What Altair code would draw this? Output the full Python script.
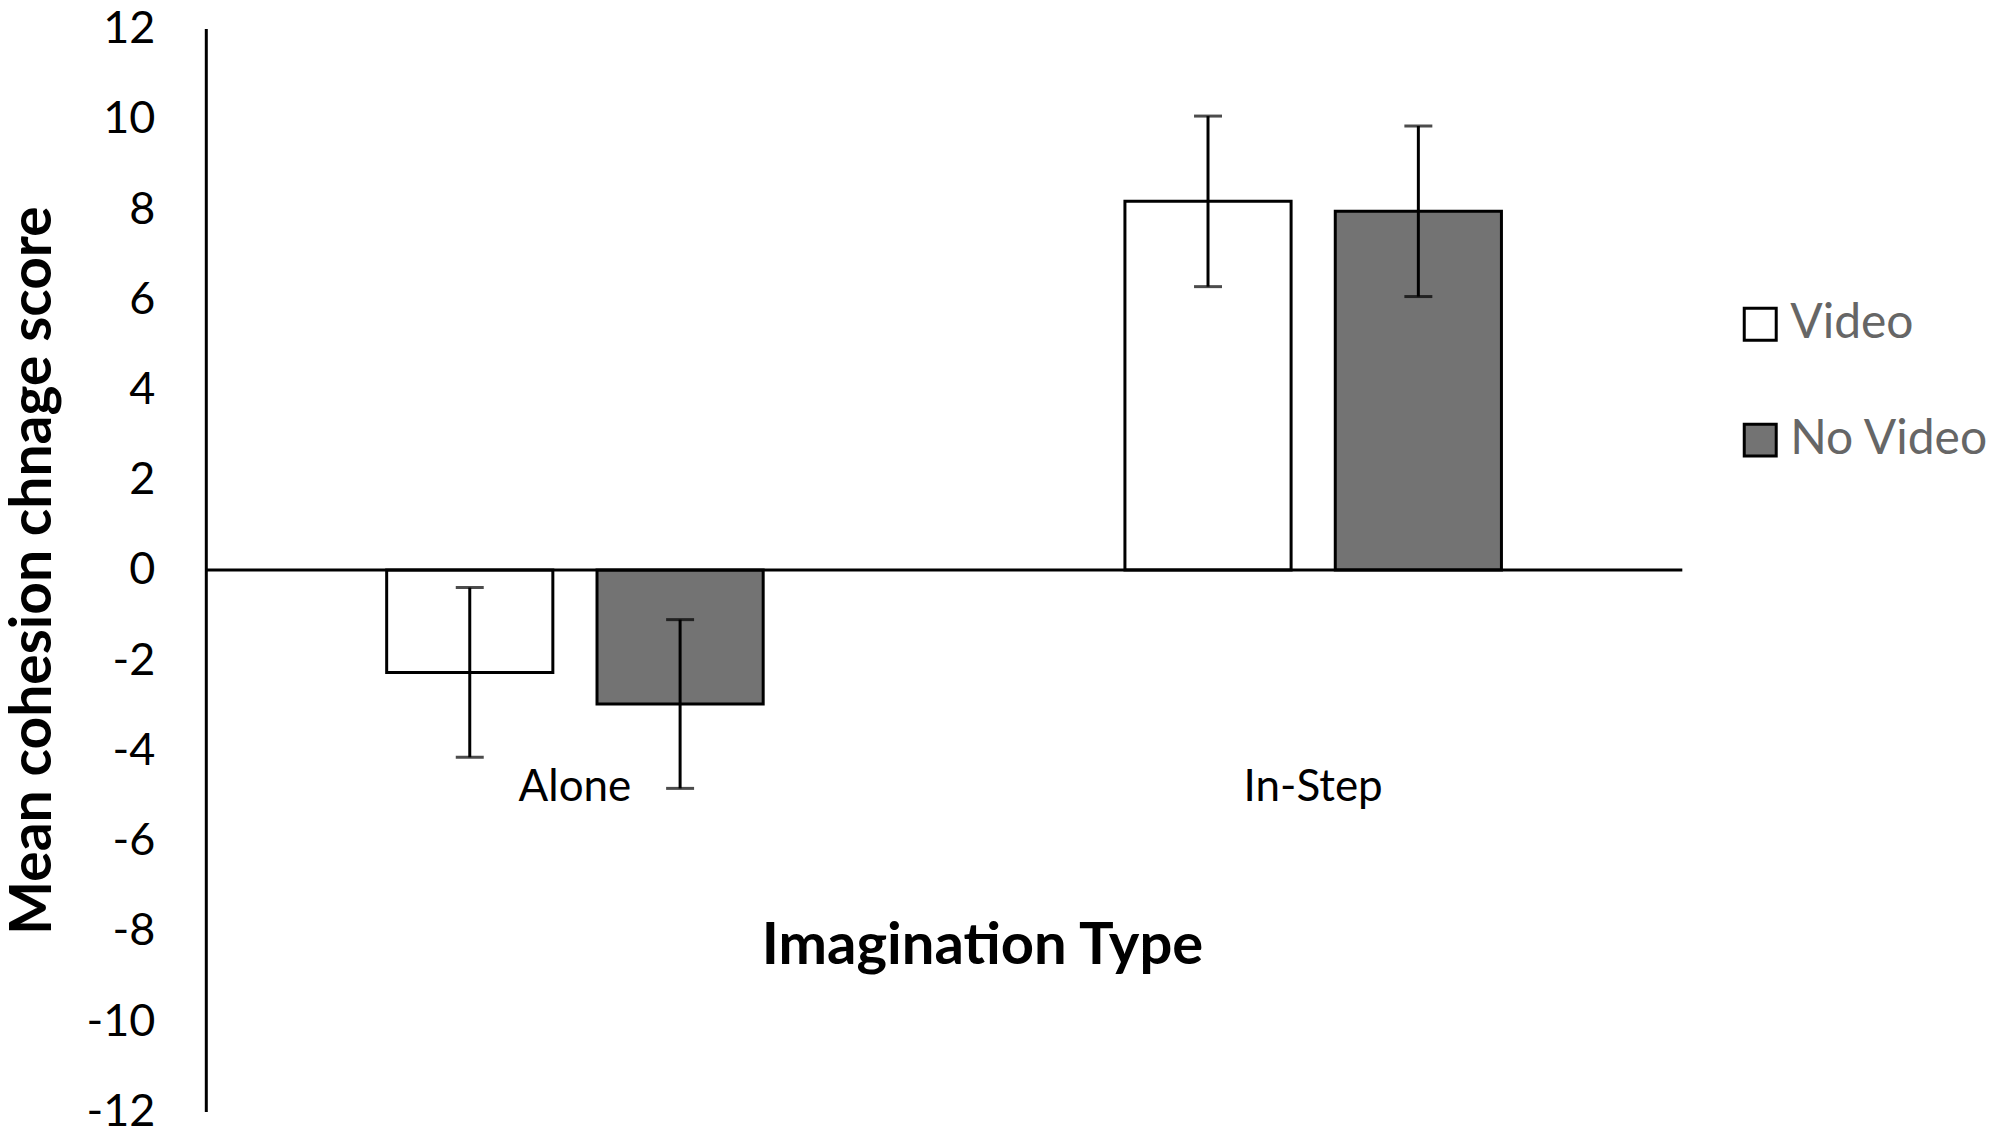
import altair as alt
import pandas as pd

categories = ["Alone", "In-Step"]
conditions = ["Video", "No Video"]
video_means = [-2.27, 8.17]
novideo_means = [-2.97, 7.95]
video_err = [1.88, 1.89]
novideo_err = [1.87, 1.89]
y_ticks = list(range(-12, 13, 2))
fill_colors = ["#ffffff", "#737373"]

rows = []
for i, c in enumerate(categories):
    rows.append(dict(cat=c, cond="Video", mean=video_means[i], err=video_err[i]))
    rows.append(dict(cat=c, cond="No Video", mean=novideo_means[i], err=novideo_err[i]))
df = pd.DataFrame(rows)
df["lo"] = df["mean"] - df["err"]
df["hi"] = df["mean"] + df["err"]

FONT = "Lato"
W, H = 1478, 1084

xscale = alt.Scale(paddingInner=0.49, paddingOuter=0.245)
xoff = alt.XOffset("cond:N", sort=conditions, scale=alt.Scale(paddingInner=0.21, paddingOuter=0))
yscale = alt.Scale(domain=[-12, 12], nice=False, zero=False)

base = alt.Chart(df)

bars = base.mark_bar(stroke="black", strokeWidth=3).encode(
    x=alt.X("cat:N", sort=categories, scale=xscale, title="Imagination Type",
            axis=alt.Axis(domain=False, ticks=False, tickSize=0,
                          labelAngle=0, labelPadding=0, offset=-346,
                          labelFont=FONT, labelFontSize=44, labelColor="black",
                          labelBaseline="top",
                          titleFont=FONT, titleFontSize=58, titleFontWeight="bold",
                          titleColor="black", titleX=777, titleY=198,
                          titleBaseline="alphabetic")),
    xOffset=xoff,
    y=alt.Y("mean:Q", scale=yscale, title="Mean cohesion chnage score",
            axis=alt.Axis(values=y_ticks, grid=False,
                          ticks=False, tickSize=0, labelPadding=51,
                          labelExpr="'' + datum.value",
                          domainColor="black", domainWidth=3,
                          labelFont=FONT, labelFontSize=45, labelColor="black",
                          titleFont=FONT, titleFontSize=57, titleFontWeight="bold",
                          titleColor="black", titleAngle=270, titleX=-172, titleY=H / 2,
                          titleBaseline="middle", titleAlign="center")),
    fill=alt.Fill("cond:N", sort=conditions,
                  scale=alt.Scale(domain=conditions, range=fill_colors),
                  legend=alt.Legend(title=None, orient="none", legendX=1532, legendY=272,
                                    symbolType="square", symbolSize=1024,
                                    symbolStrokeColor="black", symbolStrokeWidth=3,
                                    labelFont=FONT, labelFontSize=48, labelColor="#666666",
                                    labelLimit=0, rowPadding=68, labelOffset=6)),
)

err = base.mark_rule(color="black", strokeWidth=3).encode(
    x=alt.X("cat:N", sort=categories, scale=xscale, title="Imagination Type"),
    xOffset=xoff,
    y=alt.Y("lo:Q", scale=yscale, title="Mean cohesion chnage score"),
    y2="hi:Q",
)

cap_lo = base.mark_tick(color="black", thickness=3, size=28).encode(
    x=alt.X("cat:N", sort=categories, scale=xscale, title="Imagination Type"),
    xOffset=xoff,
    y=alt.Y("lo:Q", scale=yscale, title="Mean cohesion chnage score"),
)
cap_hi = base.mark_tick(color="black", thickness=3, size=28).encode(
    x=alt.X("cat:N", sort=categories, scale=xscale, title="Imagination Type"),
    xOffset=xoff,
    y=alt.Y("hi:Q", scale=yscale, title="Mean cohesion chnage score"),
)

zero = alt.Chart(pd.DataFrame({"z": [0]})).mark_rule(color="black", strokeWidth=3).encode(
    y=alt.Y("z:Q", scale=yscale, title="Mean cohesion chnage score")
)

chart = alt.layer(bars, zero, err, cap_lo, cap_hi).properties(
    width=W, height=H,
    background="white",
    autosize=alt.AutoSizeParams(type="none"),
    padding={"left": 198, "top": 20, "right": 310, "bottom": 14},
).configure_view(stroke=None)

chart.save("out.html", embed_options={"renderer": "svg", "actions": False})
